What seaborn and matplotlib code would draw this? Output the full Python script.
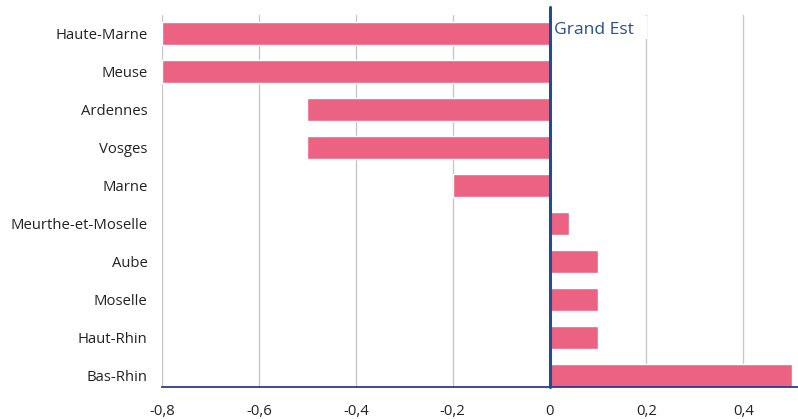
import matplotlib
matplotlib.use("Agg")
import matplotlib.pyplot as plt
from matplotlib.patches import Rectangle
import seaborn as sns
import pandas as pd

categories = ["Haute-Marne", "Meuse", "Ardennes", "Vosges", "Marne",
              "Meurthe-et-Moselle", "Aube", "Moselle", "Haut-Rhin", "Bas-Rhin"]
values = [-0.8, -0.8, -0.5, -0.5, -0.2, 0.04, 0.1, 0.1, 0.1, 0.5]
xticks = [-0.8, -0.6, -0.4, -0.2, 0, 0.2, 0.4]
xtick_labels = ["-0,8", "-0,6", "-0,4", "-0,2", "0", "0,2", "0,4"]
ref_label = "Grand Est"

sns.set_theme(style="white")
plt.rcParams['font.family'] = ['Open Sans', 'DejaVu Sans']

df = pd.DataFrame({"cat": categories, "val": values})

fig = plt.figure(figsize=(7.98, 4.19), dpi=100)
ax = fig.add_axes([162/798, (419-387)/419, (798-162)/798, (387-15)/419])

sns.barplot(data=df, x="val", y="cat", orient="h", color="#EC6283",
            saturation=1, width=0.6, ax=ax, zorder=2)

ax.set_xlim(-0.8, 0.513)
ax.set_ylim(9.3, -0.49)
ax.set_xlabel("")
ax.set_ylabel("")
ax.set_xticks(xticks)
ax.set_xticklabels(xtick_labels, fontsize=10.7, color="#222222")
ax.tick_params(axis="x", length=6, color="#c8c8c8", width=1, pad=6)
ax.tick_params(axis="y", length=0, pad=10.5, labelsize=10.7, labelcolor="#222222")

for t in xticks:
    ax.axvline(t, color="#c8c8c8", lw=1, zorder=0)

for s in ["top", "right", "left"]:
    ax.spines[s].set_visible(False)
ax.spines["bottom"].set_color("#2d3a8c")
ax.spines["bottom"].set_linewidth(1.3)

# white label background covering gridlines
ax.add_patch(Rectangle((0.004, -0.47), 0.1975, 0.6, facecolor="white",
                       edgecolor="none", zorder=1))
ax.axvline(0, ymin=0, ymax=1 + 8/372, color="#1f4e8c", lw=2.2, zorder=4, clip_on=False)
ax.text(0.01, -0.1, ref_label, fontsize=12.6, color="#2a5090", va="center", ha="left",
        zorder=3)

fig.savefig("out.png", dpi=100)
